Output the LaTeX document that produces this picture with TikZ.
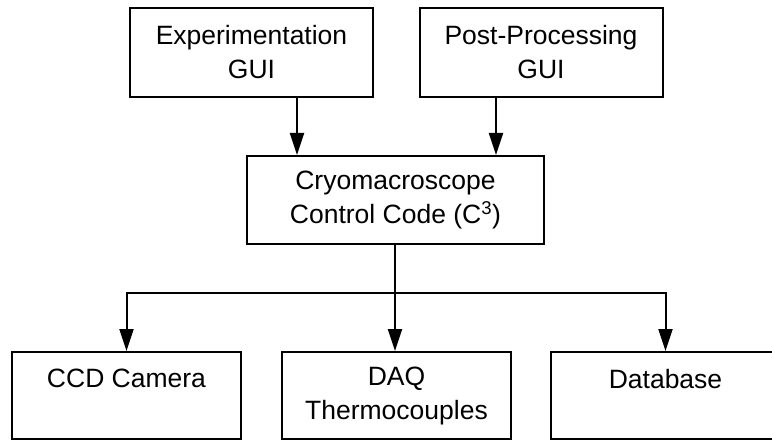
\documentclass[tikz,border=0pt]{standalone}
\usepackage{fontspec}
\setmainfont{Liberation Sans}
\usetikzlibrary{arrows.meta}

\tikzset{
	box/.style={rectangle,draw,line width=2pt,inner sep=0pt,align=center,
		font=\fontsize{26.5}{34}\selectfont},
	topbox/.style={box,minimum width=243pt,minimum height=89pt},
	lowbox/.style={box,minimum width=229pt,minimum height=87pt},
	link/.style={line width=2pt},
	arr/.style={link,-{Triangle[length=22pt,width=14pt]}}
}

\begin{document}
\begin{tikzpicture}[x=1pt,y=-1pt]
		\useasboundingbox (0,0) rectangle (772,441);

		\node(exp) at (251.5,52.5)[topbox]{Experimentation\\GUI};
		\node(post) at (541,52.5)[topbox]{Post-Processing\\GUI};
		\node(c3) at (395.5,200)[box,minimum width=297pt,minimum height=88pt]{Cryomacroscope\\Control Code (C\textsuperscript{3})};
		\node(ccd) at (126.5,395.5)[lowbox]{CCD Camera\\\mbox{}};
		\node(daq) at (396.5,395.5)[lowbox]{DAQ\\Thermocouples};
		\node(db) at (665.5,395.5)[lowbox]{Database\\\mbox{}};

		% inputs from the two GUIs
		\coordinate(a1) at ([xshift=45.5pt]exp.south);
		\coordinate(a2) at ([xshift=-45pt]post.south);
		\draw[arr] (a1) to (a1 |- c3.north);
		\draw[arr] (a2) to (a2 |- c3.north);

		% fan out to the hardware
		\coordinate(bus) at (395,293);
		\draw[link] (c3.south -| bus) to (bus);
		\draw[arr] (bus) -| (ccd.north);
		\draw[arr] (bus) -| (db.north);
		\draw[arr] (bus) to (bus |- daq.north);
	\end{tikzpicture}
\end{document}
